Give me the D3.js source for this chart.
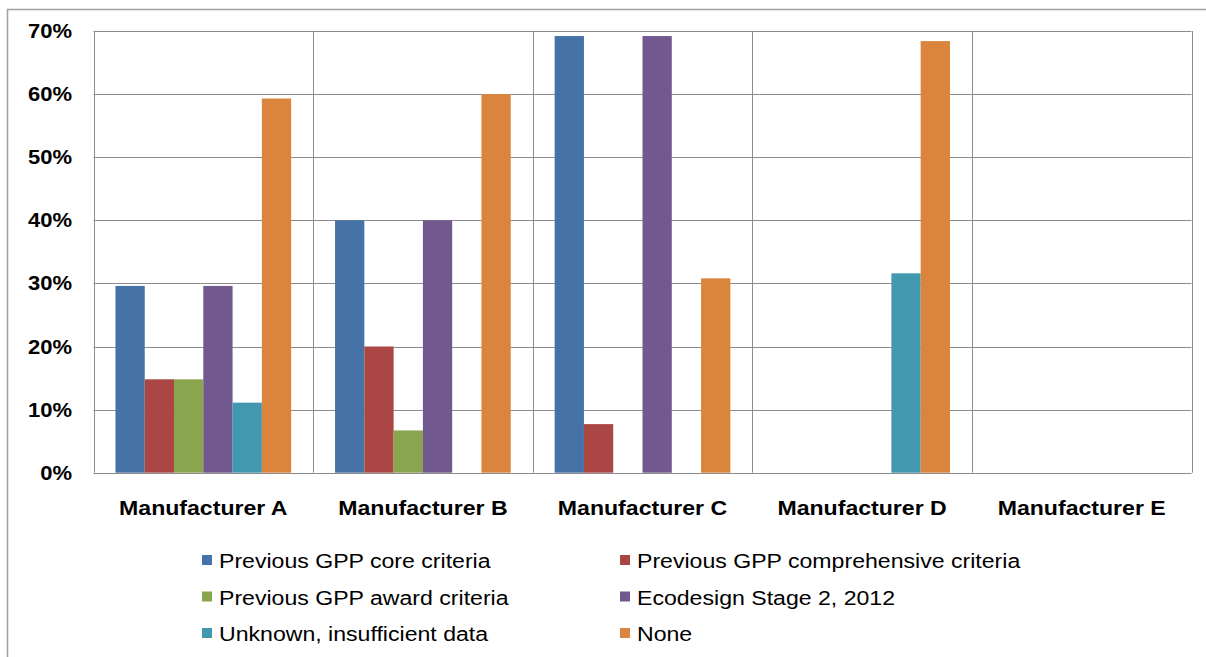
<!DOCTYPE html>
<html>
<head>
<meta charset="utf-8">
<script src="https://cdn.jsdelivr.net/npm/d3@7"></script>
<style>
  html, body { margin: 0; padding: 0; background: #fff; }
  svg { display: block; }
  text { font-family: Arial, "Liberation Sans", sans-serif; fill: #000; }
</style>
</head>
<body>
<svg id="chart" width="1206" height="657"></svg>
<script>
// Share of products meeting each set of criteria, per manufacturer
const manufacturers = ["Manufacturer A", "Manufacturer B", "Manufacturer C", "Manufacturer D", "Manufacturer E"];
const seriesNames = [
  "Previous GPP core criteria",
  "Previous GPP comprehensive criteria",
  "Previous GPP award criteria",
  "Ecodesign Stage 2, 2012",
  "Unknown, insufficient data",
  "None"
];
const coreCriteria          = [29.6, 40.0, 69.2, 0, 0];
const comprehensiveCriteria = [14.8, 20.0, 7.7, 0, 0];
const awardCriteria         = [14.8, 6.7, 0, 0, 0];
const ecodesignStage2       = [29.6, 40.0, 69.2, 0, 0];
const unknownData           = [11.1, 0, 0, 31.6, 0];
const noneMet               = [59.3, 60.0, 30.8, 68.4, 0];
const yTicks = [0, 10, 20, 30, 40, 50, 60, 70];
const seriesColors = ["#4572A7", "#AA4643", "#89A54E", "#71588F", "#4198AF", "#DB843D"];

const seriesValues = [coreCriteria, comprehensiveCriteria, awardCriteria, ecodesignStage2, unknownData, noneMet];

const svg = d3.select("#chart");
const plot = { left: 93.5, right: 1191.5, top: 31, bottom: 472.7 };
const stretch = 1.1; // horizontal text stretch

// outer chart frame (left and top edges visible)
svg.append("path")
  .attr("d", "M7.5,657 V9.5 H1206")
  .attr("fill", "none")
  .attr("stroke", "#a0a0a0")
  .attr("stroke-width", 1.5);

const x = d3.scaleBand().domain(manufacturers).range([plot.left, plot.right]).padding(0);
const xInner = d3.scaleBand().domain(seriesNames).range([0, x.bandwidth()])
  .paddingInner(0).paddingOuter(0.75);
const y = d3.scaleLinear().domain([0, 70]).range([plot.bottom, plot.top]);

// horizontal gridlines
svg.append("g").selectAll("line").data(yTicks).join("line")
  .attr("x1", plot.left).attr("x2", plot.right)
  .attr("y1", d => Math.round(y(d)) + 0.5).attr("y2", d => Math.round(y(d)) + 0.5)
  .attr("stroke", "#8c8c8c").attr("stroke-width", 1);

// vertical category separators and plot edges
const bounds = manufacturers.map(m => x(m)).concat([plot.right]);
svg.append("g").selectAll("line").data(bounds).join("line")
  .attr("x1", d => Math.round(d) + 0.5).attr("x2", d => Math.round(d) + 0.5)
  .attr("y1", plot.top).attr("y2", plot.bottom)
  .attr("stroke", "#8c8c8c").attr("stroke-width", 1);

// bars
const groups = svg.append("g").selectAll("g").data(manufacturers).join("g")
  .attr("transform", d => `translate(${x(d)},0)`);
groups.selectAll("rect")
  .data((m, i) => seriesNames.map((s, j) => ({ s, v: seriesValues[j][i], c: seriesColors[j] })))
  .join("rect")
  .attr("x", d => xInner(d.s))
  .attr("width", xInner.bandwidth())
  .attr("y", d => y(d.v))
  .attr("height", d => y(0) - y(d.v))
  .attr("fill", d => d.c);

// y-axis labels
svg.append("g").selectAll("text").data(yTicks).join("text")
  .attr("transform", d => `translate(72,${y(d) + 7}) scale(${stretch},1)`)
  .attr("text-anchor", "end")
  .attr("font-size", 20)
  .attr("font-weight", "bold")
  .text(d => d + "%");

// category labels
svg.append("g").selectAll("text").data(manufacturers).join("text")
  .attr("transform", d => `translate(${x(d) + x.bandwidth() / 2},515) scale(${stretch},1)`)
  .attr("text-anchor", "middle")
  .attr("font-size", 21)
  .attr("font-weight", "bold")
  .text(d => d);

// legend: two columns, three rows
const legendCols = [202, 620];
const legendRows = [568, 604.5, 641];
const legend = svg.append("g").selectAll("g").data(seriesNames).join("g")
  .attr("transform", (d, i) => `translate(${legendCols[i % 2]},${legendRows[Math.floor(i / 2)]})`);
legend.append("rect")
  .attr("x", 0).attr("y", -13).attr("width", 10).attr("height", 10)
  .attr("fill", (d, i) => seriesColors[i]);
legend.append("text")
  .attr("transform", `translate(17,0) scale(${stretch},1)`)
  .attr("font-size", 21)
  .text(d => d);
</script>
</body>
</html>
